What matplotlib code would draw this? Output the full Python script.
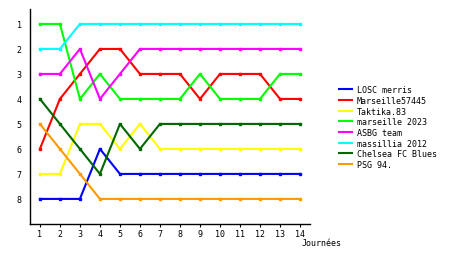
import matplotlib
matplotlib.use("Agg")
import matplotlib.pyplot as plt

journees = list(range(1, 15))

teams = ["LOSC merris", "Marseille57445", "Taktika.83", "marseille 2023",
         "ASBG team", "massillia 2012", "Chelsea FC Blues", "PSG 94."]
colors = ["#0000ff", "#ff0000", "#ffff00", "#00ff00",
          "#ff00ff", "#00ffff", "#006600", "#ff9900"]

losc = [8, 8, 8, 6, 7, 7, 7, 7, 7, 7, 7, 7, 7, 7]
marseille57445 = [6, 4, 3, 2, 2, 3, 3, 3, 4, 3, 3, 3, 4, 4]
taktika = [7, 7, 5, 5, 6, 5, 6, 6, 6, 6, 6, 6, 6, 6]
marseille2023 = [1, 1, 4, 3, 4, 4, 4, 4, 3, 4, 4, 4, 3, 3]
asbg = [3, 3, 2, 4, 3, 2, 2, 2, 2, 2, 2, 2, 2, 2]
massillia = [2, 2, 1, 1, 1, 1, 1, 1, 1, 1, 1, 1, 1, 1]
chelsea = [4, 5, 6, 7, 5, 6, 5, 5, 5, 5, 5, 5, 5, 5]
psg = [5, 6, 7, 8, 8, 8, 8, 8, 8, 8, 8, 8, 8, 8]

series = [losc, marseille57445, taktika, marseille2023, asbg, massillia, chelsea, psg]

plt.rcParams['font.family'] = 'DejaVu Sans Mono'
fig = plt.figure(figsize=(4.6, 2.55), dpi=100)
ax = fig.add_axes([0.065, 0.118, 0.609, 0.843])

for name, vals, c in zip(teams, series, colors):
    ax.plot(journees, vals, color=c, lw=1.5, label=name)
    ax.plot(journees, vals, color=c, lw=0, marker='s', markersize=1.8)

ax.set_xlim(0.5, 14.5)
ax.set_ylim(9, 0.4)
ax.set_xticks(journees)
ax.set_yticks(range(1, 9))
ax.tick_params(axis='x', labelsize=6, length=2, width=0.8, pad=2)
ax.tick_params(axis='y', labelsize=6, length=0, pad=6)
for s in ['top', 'right']:
    ax.spines[s].set_visible(False)
ax.spines['left'].set_linewidth(1)
ax.spines['bottom'].set_linewidth(1)

fig.text(0.655, 0.045, "Journées", fontsize=6, ha='left', va='center')

ax.legend(loc='upper left', bbox_to_anchor=(1.09, 0.66), frameon=False,
          fontsize=6.0, handlelength=1.6, handletextpad=0.6, labelspacing=0.2,
          borderaxespad=0)

fig.savefig("out.png", dpi=100)
